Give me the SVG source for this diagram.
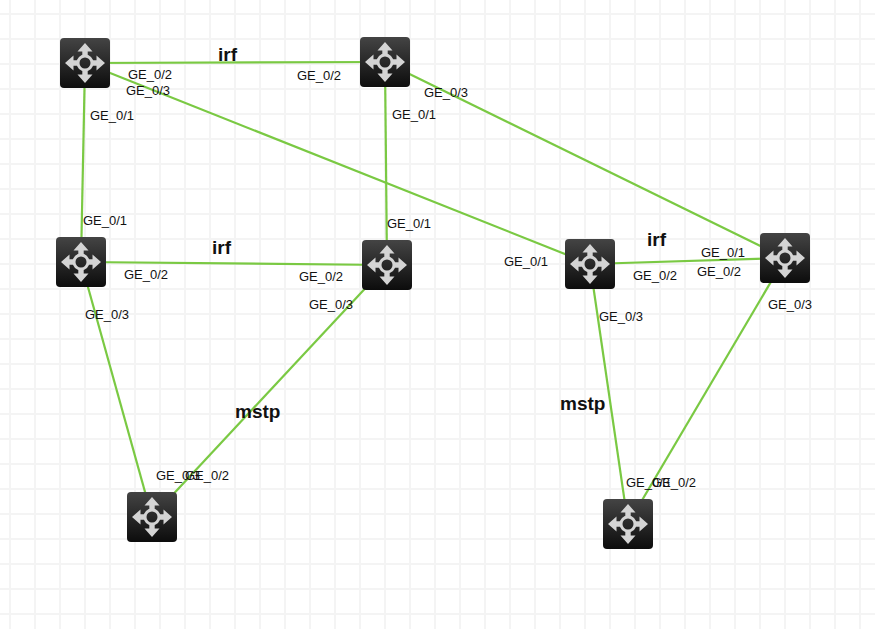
<svg xmlns="http://www.w3.org/2000/svg" width="875" height="629" viewBox="0 0 875 629">
<style>
.g{stroke:#f4f4f4;stroke-width:2;fill:none}
.c{stroke:#7ac943;stroke-width:2.200;fill:none}
.p{font:13px "Liberation Sans",Arial,sans-serif;fill:#111}
.b{font:bold 19px "Liberation Sans",Arial,sans-serif;fill:#111}
.a{fill:#d4d4d4}
.r{fill:none;stroke:#d4d4d4;stroke-width:3}
</style>
<defs>
<linearGradient id="bg" x1="0" y1="0" x2="0" y2="1"><stop offset="0" stop-color="#444"/><stop offset="1" stop-color="#0c0c0c"/></linearGradient>
<g id="router">
<rect x="0" y="0" width="50" height="50" rx="4" fill="url(#bg)"/>
<circle cx="25" cy="25" r="7" class="r"/>
<path class="a" d="M25 5l7.500 8.500h-4.800v5h-5.400v-5H17.500zM25 45l7.500-8.500h-4.800v-5h-5.400v5H17.500zM5 25l8.500-7.500v4.800h5v5.400h-5V32.500zM45 25l-8.500-7.500v4.800h-5v5.400h5V32.500z"/>
</g>
</defs>
<rect width="875" height="629" fill="#fff"/>
<path class="g" d="M10 0V629M35 0V629M60 0V629M85 0V629M110 0V629M135 0V629M160 0V629M185 0V629M210 0V629M235 0V629M260 0V629M285 0V629M310 0V629M335 0V629M360 0V629M385 0V629M410 0V629M435 0V629M460 0V629M485 0V629M510 0V629M535 0V629M560 0V629M585 0V629M610 0V629M635 0V629M660 0V629M685 0V629M710 0V629M735 0V629M760 0V629M785 0V629M810 0V629M835 0V629M860 0V629M0 14H875M0 39H875M0 64H875M0 89H875M0 114H875M0 139H875M0 164H875M0 189H875M0 214H875M0 239H875M0 264H875M0 289H875M0 314H875M0 339H875M0 364H875M0 389H875M0 414H875M0 439H875M0 464H875M0 489H875M0 514H875M0 539H875M0 564H875M0 589H875M0 614H875"/>
<g id="connectors">
<path class="c" d="M85 63L385 62"/>
<path class="c" d="M85 63L81 262"/>
<path class="c" d="M85 63L590 264"/>
<path class="c" d="M385 62L387 265"/>
<path class="c" d="M385 62L785 258"/>
<path class="c" d="M81 262L387 265"/>
<path class="c" d="M81 262L152 517"/>
<path class="c" d="M387 265L152 517"/>
<path class="c" d="M590 264L785 258"/>
<path class="c" d="M590 264L628 524"/>
<path class="c" d="M785 258L628 524"/>
</g>
<g id="n1"><use href="#router" x="60" y="38"/></g>
<g id="n2"><use href="#router" x="360" y="37"/></g>
<g id="n3"><use href="#router" x="56" y="237"/></g>
<g id="n4"><use href="#router" x="362" y="240"/></g>
<g id="n5"><use href="#router" x="565" y="239"/></g>
<g id="n6"><use href="#router" x="760" y="233"/></g>
<g id="n7"><use href="#router" x="127" y="492"/></g>
<g id="n8"><use href="#router" x="603" y="499"/></g>
<g id="labels">
<text class="b" x="218" y="61">irf</text>
<text class="b" x="212" y="254">irf</text>
<text class="b" x="647" y="246">irf</text>
<text class="b" x="235" y="418">mstp</text>
<text class="b" x="560" y="410">mstp</text>
<text class="p" x="128" y="79">GE_0/2</text>
<text class="p" x="126" y="95">GE_0/3</text>
<text class="p" x="90" y="120">GE_0/1</text>
<text class="p" x="297" y="80">GE_0/2</text>
<text class="p" x="424" y="97">GE_0/3</text>
<text class="p" x="392" y="119">GE_0/1</text>
<text class="p" x="83" y="225">GE_0/1</text>
<text class="p" x="387" y="228">GE_0/1</text>
<text class="p" x="124" y="279">GE_0/2</text>
<text class="p" x="299" y="281">GE_0/2</text>
<text class="p" x="309" y="309">GE_0/3</text>
<text class="p" x="85" y="319">GE_0/3</text>
<text class="p" x="504" y="266">GE_0/1</text>
<text class="p" x="633" y="280">GE_0/2</text>
<text class="p" x="701" y="257">GE_0/1</text>
<text class="p" x="697" y="276">GE_0/2</text>
<text class="p" x="768" y="309">GE_0/3</text>
<text class="p" x="599" y="321">GE_0/3</text>
<text class="p" x="156" y="480">GE_0/3</text>
<text class="p" x="185" y="480">GE_0/2</text>
<text class="p" x="626" y="487">GE_0/3</text>
<text class="p" x="652" y="487">GE_0/2</text>
</g>
</svg>
